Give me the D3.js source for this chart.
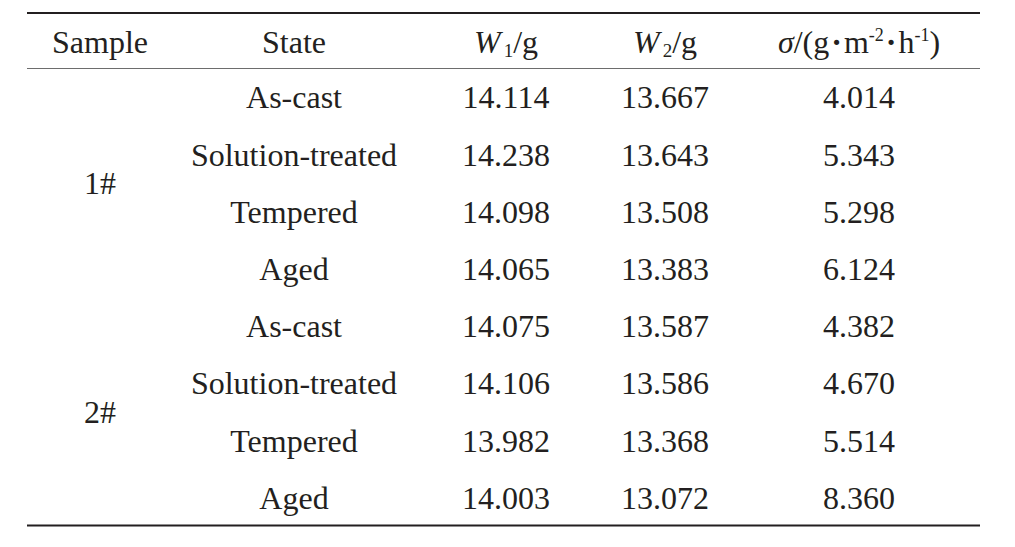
<!DOCTYPE html>
<html>
<head>
<meta charset="utf-8">
<script src="https://cdn.jsdelivr.net/npm/d3@7"></script>
<style>
  html, body { margin: 0; padding: 0; background: #fff; }
  svg { display: block; }
</style>
</head>
<body>
<svg id="chart" width="1015" height="547"></svg>
<script>
// ---- data ----
const columns = ["Sample", "State", "W1", "W2", "sigma"];
const samples = ["1#", "2#"];
const rowsPerSample = 4;
const states = ["As-cast", "Solution-treated", "Tempered", "Aged",
                "As-cast", "Solution-treated", "Tempered", "Aged"];
const w1 = [14.114, 14.238, 14.098, 14.065, 14.075, 14.106, 13.982, 14.003];
const w2 = [13.667, 13.643, 13.508, 13.383, 13.587, 13.586, 13.368, 13.072];
const sigma = [4.014, 5.343, 5.298, 6.124, 4.382, 4.670, 5.514, 8.360];

// ---- layout ----
const svg = d3.select("#chart");
const FONT = "Liberation Serif";
const INK = "#231f20";
const left = 27, right = 980;
const x = d3.scaleOrdinal().domain(columns).range([100, 294, 506, 665, 859]);
const y = d3.scaleLinear().domain([0, states.length - 1]).range([108.3, 508.7]);
const fs = 32;
const fmt = d3.format(".3f");

function txt(sel) {
  return sel.style("font-family", FONT).style("font-size", fs + "px")
    .attr("fill", INK).attr("text-anchor", "middle");
}

// rules
svg.append("line").attr("x1", left).attr("x2", right).attr("y1", 13).attr("y2", 13)
  .attr("stroke", INK).attr("stroke-width", 2.2);
svg.append("line").attr("x1", left).attr("x2", right).attr("y1", 68.5).attr("y2", 68.5)
  .attr("stroke", "#6d6d6d").attr("stroke-width", 1.2);
svg.append("line").attr("x1", left).attr("x2", right).attr("y1", 525.5).attr("y2", 525.5)
  .attr("stroke", INK).attr("stroke-width", 2.2);

// header
const hy = 53.3;
const head = svg.append("g");
txt(head.append("text")).attr("x", x("Sample")).attr("y", hy).text("Sample");
txt(head.append("text")).attr("x", x("State")).attr("y", hy).text("State");

function wHeader(key, sub) {
  const t = txt(head.append("text")).attr("x", x(key)).attr("y", hy);
  t.append("tspan").style("font-style", "italic").text("W");
  t.append("tspan").style("font-size", "19px").attr("dy", 4).attr("dx", 3).text(sub);
  t.append("tspan").attr("dy", -4).text("/g");
}
wHeader("W1", "1");
wHeader("W2", "2");

const s = txt(head.append("text")).attr("x", x("sigma")).attr("y", hy);
s.append("tspan").style("font-style", "italic").text("σ");
s.append("tspan").text("/(g");
s.append("tspan").style("font-weight", "bold").attr("dx", 2).text("·");
s.append("tspan").attr("dx", 2).text("m");
s.append("tspan").style("font-size", "18px").attr("dy", -12).text("-2");
s.append("tspan").style("font-weight", "bold").attr("dy", 12).attr("dx", 2).text("·");
s.append("tspan").attr("dx", 2).text("h");
s.append("tspan").style("font-size", "18px").attr("dy", -12).text("-1");
s.append("tspan").attr("dy", 12).text(")");

// body
const body = svg.append("g");
txt(body.selectAll("text.sample").data(samples).join("text"))
  .attr("class", "sample")
  .attr("x", x("Sample"))
  .attr("y", (d, i) => y(i * rowsPerSample + (rowsPerSample - 1) / 2))
  .text(d => d);

const rows = states.map((st, i) => ({ st, a: w1[i], b: w2[i], c: sigma[i], i }));
const rg = body.selectAll("g.row").data(rows).join("g").attr("class", "row");
txt(rg.append("text")).attr("x", x("State")).attr("y", d => y(d.i)).text(d => d.st);
txt(rg.append("text")).attr("x", x("W1")).attr("y", d => y(d.i)).text(d => fmt(d.a));
txt(rg.append("text")).attr("x", x("W2")).attr("y", d => y(d.i)).text(d => fmt(d.b));
txt(rg.append("text")).attr("x", x("sigma")).attr("y", d => y(d.i)).text(d => fmt(d.c));
</script>
</body>
</html>
